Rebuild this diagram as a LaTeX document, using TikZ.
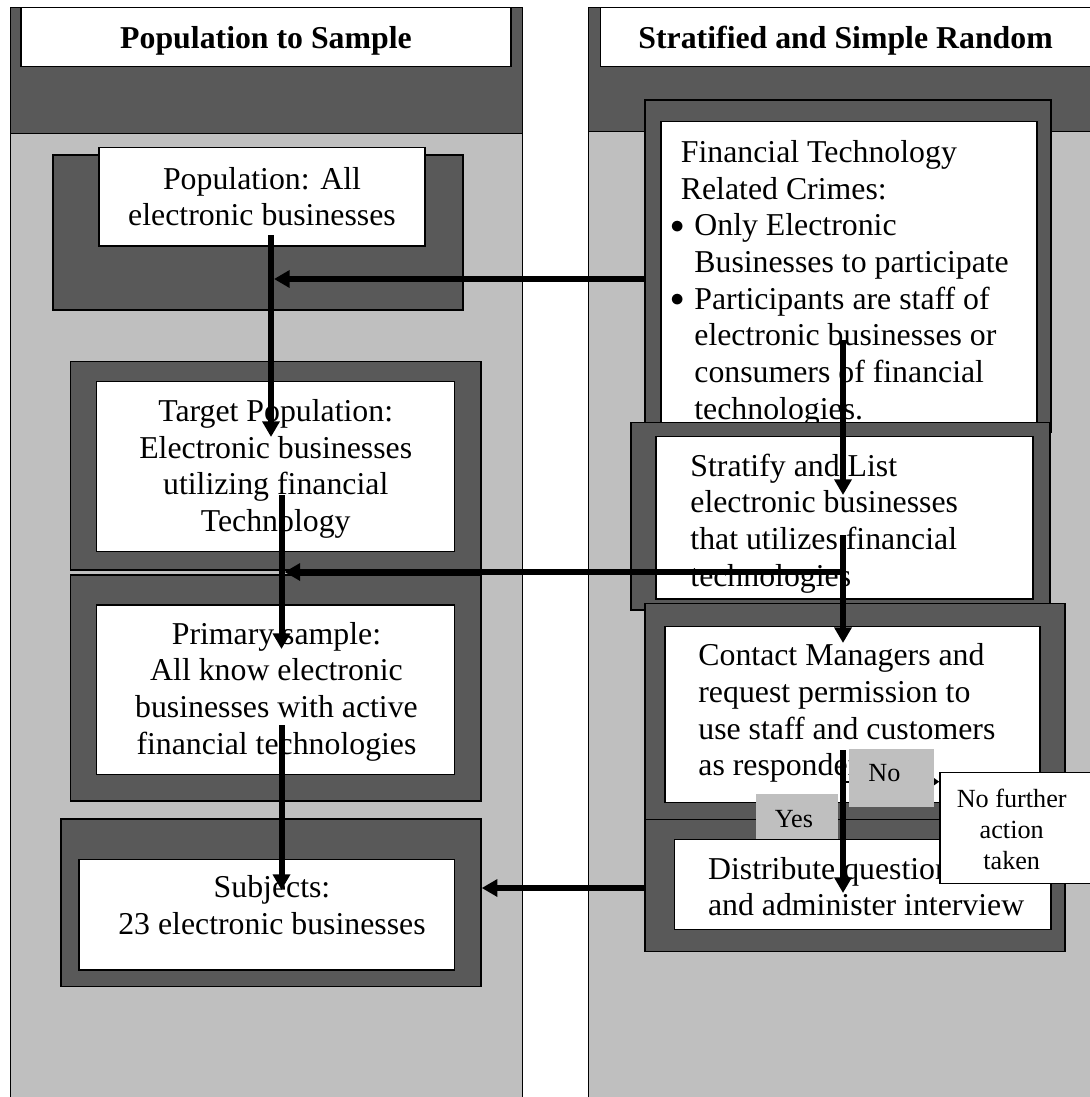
\documentclass[tikz,border=0pt]{standalone}
\usepackage{fontspec}
\setmainfont{Liberation Serif}
\usetikzlibrary{arrows.meta,fit}
\definecolor{darkband}{RGB}{89,89,89}
\definecolor{lightband}{RGB}{191,191,191}
\newcommand\listdot{\makebox[12pt][l]{\raisebox{1.3pt}{\scalebox{0.8}{$\bullet$}}}}
\tikzset{
  box/.style={inner sep=0pt, draw=black, line width=0.75pt},
  colbox/.style={box, line width=0.5pt},
  outerbox/.style={box, fill=darkband},
  innerbox/.style={box, fill=white},
  tagbox/.style={inner sep=0pt, fill=lightband},
  body/.style={inner sep=0pt, font=\fontsize{15.9pt}{18.35pt}\selectfont},
  smalltext/.style={inner sep=0pt, font=\fontsize{13.1pt}{15.35pt}\selectfont},
  flow/.style={line width=3pt, -{Triangle[width=8.4pt,length=7.8pt]}},
  noflow/.style={line width=1pt, -{Triangle[width=4pt,length=3pt]}},
}
\begin{document}
\begin{tikzpicture}[x=0.5pt,y=-0.5pt]
\useasboundingbox (0,0) rectangle (1090,1097);
\clip (0,0) rectangle (1090,1097);

% columns
\node[colbox, fill=lightband, fit={(10.4,7.3) (522,1110)}] (colL) {};
\node[colbox, fill=darkband, fit={(10.4,7.3) (522,133.3)}] (bandL) {};
\node[innerbox, fit={(21,7.3) (511,66.7)}] (hdrL) {};
\node[body, anchor=base] (hdrLtxt) at (266,48.3) {\textbf{Population to Sample}};

\node[colbox, fill=lightband, fit={(588.5,7.3) (1110,1110)}] (colR) {};
\node[colbox, fill=darkband, fit={(588.5,7.3) (1110,131.7)}] (bandR) {};
\node[innerbox, fit={(600.6,7.3) (1110,66.7)}] (hdrR) {};
\node[body, anchor=base] (hdrRtxt) at (845.6,48.3) {\textbf{Stratified and Simple Random}};

% population to sample
\node[outerbox, fit={(53,155) (463,310)}] (popout) {};
\node[innerbox, fit={(99,147.7) (425,246)}] (popin) {};
\node[body, anchor=north, align=center] (poptxt) at (262,166.6)
  {Population: All\\electronic businesses};

\node[outerbox, fit={(70.5,361.7) (481,570)}] (tgtout) {};
\node[innerbox, fit={(96.6,381.7) (454.6,551.7)}] (tgtin) {};
\node[body, anchor=north, align=center] (tgttxt) at (275.7,399)
  {Target Population:\\Electronic businesses\\utilizing financial\\Technology};

\node[outerbox, fit={(70.5,575) (481,801)}] (priout) {};
\node[innerbox, fit={(96.6,605) (454.6,774.3)}] (priin) {};
\node[body, anchor=north, align=center] (pritxt) at (276.5,621.6)
  {Primary sample:\\All know electronic\\businesses with active\\financial technologies};

\node[outerbox, fit={(61,819) (481,986.7)}] (subout) {};
\node[innerbox, fit={(79,859.3) (454.6,970)}] (subin) {};
\node[body, anchor=north, align=center] (subtxt) at (272,875)
  {Subjects:\\23 electronic businesses};

% stratified and simple random
\node[outerbox, fit={(645,100) (1051,432)}] (finout) {};
\node[innerbox, fit={(661,121.7) (1037,432)}] (finin) {};
\node[body, anchor=north west, align=left] (fintxt) at (670,140) {%
  \hspace*{5.25pt}Financial Technology\\
  \hspace*{5.25pt}Related Crimes:\\
  \listdot Only Electronic\\
  \hspace*{12pt}Businesses to participate\\
  \listdot Participants are staff of\\
  \hspace*{12pt}electronic businesses or\\
  \hspace*{12pt}consumers of financial\\
  \hspace*{12pt}technologies.};

\node[outerbox, fit={(631,422.3) (1050,610)}] (strout) {};
\node[innerbox, fit={(656,436.7) (1033,599)}] (strin) {};
\node[body, anchor=north west, align=left] (strtxt) at (690,453.3)
  {Stratify and List\\electronic businesses\\that utilizes financial\\technologies};

\node[outerbox, fit={(645,603.3) (1065,820)}] (conout) {};
\node[innerbox, fit={(665,626.7) (1040,802.3)}] (conin) {};
\node[body, anchor=north west, align=left] (contxt) at (698,643.3)
  {Contact Managers and\\request permission to\\use staff and customers\\as respondents};

\node[outerbox, fit={(645,819.3) (1065,951.7)}] (disout) {};
\node[innerbox, fit={(674.6,839.3) (1051,929.3)}] (disin) {};
\node[body, anchor=north west, align=left] (distxt) at (707.7,856.6)
  {Distribute questionnaires\\and administer interview};

% arrows
\coordinate (pA) at (271,235);
\coordinate (pB) at (271,437);
\coordinate (tA) at (281.5,495);
\coordinate (tB) at (281.5,649);
\coordinate (sA) at (281.5,725);
\coordinate (sB) at (281.5,890);
\coordinate (fA) at (843,340);
\coordinate (fB) at (843,495);
\coordinate (lA) at (843,535);
\coordinate (lB) at (843,643);
\coordinate (cA) at (843,750);
\coordinate (cB) at (843,893);
\coordinate (hF) at (274,279);
\coordinate (hS) at (284.5,572);
\coordinate (hD) at (0,888);
\draw[flow] (pA) -- (pB);
\draw[flow] (tA) -- (tB);
\draw[flow] (sA) -- (sB);
\draw[flow] (fA) -- (fB);
\draw[flow] (lA) -- (lB);
\draw[flow] (cA) -- (cB);
\draw[flow] (finout.west |- hF) -- (hF);
\draw[flow] (lA |- hS) -- (hS);
\draw[flow] (disout.west |- hD) -- (subout.east |- hD);

% decision
\node[innerbox, fit={(940,772.7) (1110,883.3)}] (nofur) {};
\node[smalltext, anchor=north, align=center] (nofurtxt) at (1011.7,788.8)
  {No further\\action\\taken};
\coordinate (nA) at (843,781.7);
\draw[noflow] (nA) -- (nofur.west |- nA);
\node[tagbox, fit={(849,749) (934,807)}] (nobox) {};
\node[smalltext, anchor=base] (notxt) at (884.4,781.7) {No};
\node[tagbox, fit={(756,794) (838,839)}] (yesbox) {};
\node[smalltext, anchor=base] (yestxt) at (794,827.7) {Yes};
\end{tikzpicture}
\end{document}
